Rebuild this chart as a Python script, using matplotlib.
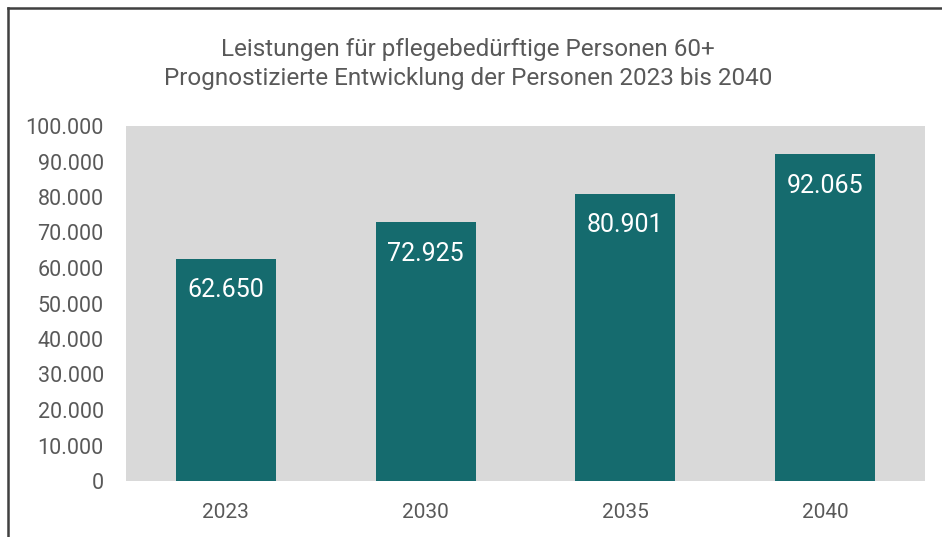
import matplotlib.pyplot as plt
from matplotlib.lines import Line2D

years = ['2023', '2030', '2035', '2040']
persons = [62650, 72925, 80901, 92065]
y_ticks = [0, 10000, 20000, 30000, 40000, 50000, 60000, 70000, 80000, 90000, 100000]

title = 'Leistungen für pflegebedürftige Personen 60+\nPrognostizierte Entwicklung der Personen 2023 bis 2040'

plt.rcParams['font.family'] = ['Roboto', 'DejaVu Sans']
text_color = '#595959'

fig = plt.figure(figsize=(9.42, 5.37), dpi=100)
ax = fig.add_axes([126 / 942, 1 - 481 / 537, 799 / 942, 355 / 537])
ax.set_facecolor('#D9D9D9')

x = range(len(years))
bars = ax.bar(x, persons, width=0.5, color='#156B6E', zorder=2)

def fmt(v):
    return f'{v:,}'.replace(',', '.')

for xi, v in zip(x, persons):
    ax.text(xi, v - 5500, fmt(v), ha='center', va='top', color='white', fontsize=18)

ax.set_xlim(-0.5, len(years) - 0.5)
ax.set_ylim(0, 100000)
ax.set_xticks(list(x))
ax.set_xticklabels(years)
ax.set_yticks(y_ticks)
ax.set_yticklabels([fmt(t) for t in y_ticks])
ax.tick_params(axis='both', length=0, colors=text_color)
ax.tick_params(axis='x', pad=16, labelsize=15)
ax.tick_params(axis='y', pad=16, labelsize=15.5)
for s in ax.spines.values():
    s.set_visible(False)

fig.text(468 / 942, 1 - 64 / 537, title, ha='center', va='center', fontsize=17.5,
         color=text_color, linespacing=1.3)

# Rahmen
fig.add_artist(Line2D([8 / 942, 8 / 942], [0, 1 - 8 / 537], color='#404040', lw=1.8, transform=fig.transFigure))
fig.add_artist(Line2D([8 / 942, 1], [1 - 8 / 537, 1 - 8 / 537], color='#404040', lw=1.8, transform=fig.transFigure))

fig.savefig('out.png', dpi=100)
